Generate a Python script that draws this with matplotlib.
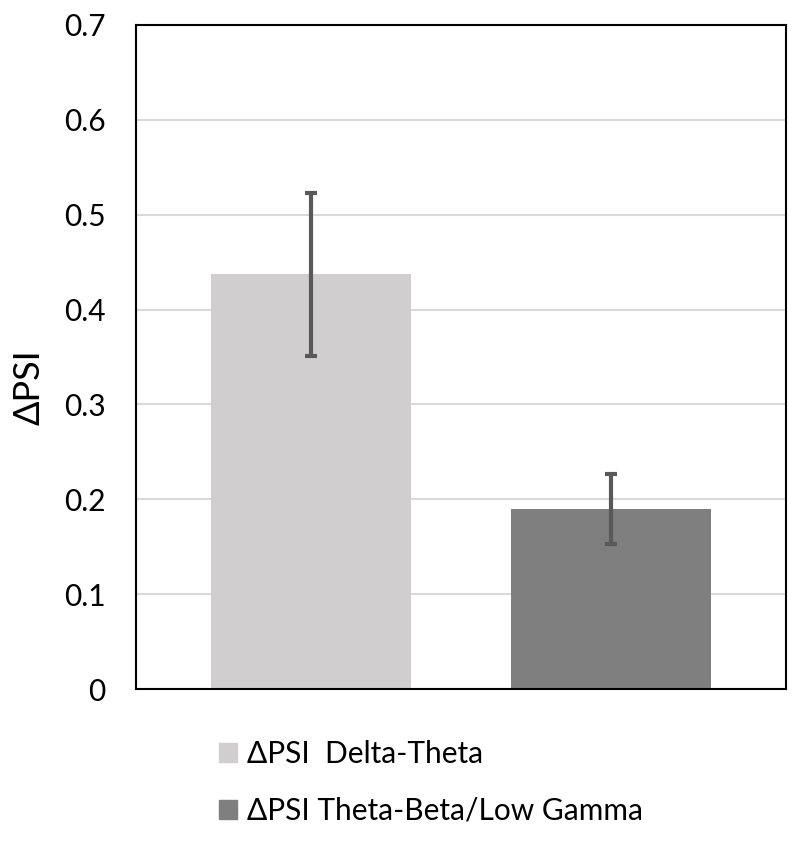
import numpy as np
import matplotlib
matplotlib.use('Agg')
import matplotlib.pyplot as plt
from matplotlib.patches import Patch

# Data
labels = ['\u0394PSI  Delta-Theta', '\u0394PSI Theta-Beta/Low Gamma']
means = [0.437, 0.190]
err_low = [0.437 - 0.351, 0.190 - 0.153]
err_high = [0.523 - 0.437, 0.227 - 0.190]
bar_colors = ['#d0cece', '#7f7f7f']
yticks = [0, 0.1, 0.2, 0.3, 0.4, 0.5, 0.6, 0.7]
ytick_labels = ['0', '0.1', '0.2', '0.3', '0.4', '0.5', '0.6', '0.7']

plt.rcParams['font.family'] = ['Lato', 'DejaVu Sans']

fig = plt.figure(figsize=(8, 8.47), dpi=100)
ax = fig.add_axes([0.17, 0.1865, 0.8125, 0.784])

x = np.arange(len(means))
ax.bar(x, means, width=0.667, color=bar_colors, zorder=2)
ax.errorbar(x, means, yerr=[err_low, err_high], fmt='none', ecolor='#595959',
            elinewidth=3, capsize=4, capthick=3, zorder=3)

ax.set_xlim(-0.583, 1.583)
ax.set_ylim(0, 0.7)
ax.set_yticks(yticks)
ax.set_yticklabels(ytick_labels, fontsize=21.5)
ax.set_xticks([])
ax.tick_params(axis='y', length=0, pad=22)
ax.yaxis.grid(True, color='#d9d9d9', linewidth=1.5, zorder=0)
ax.set_axisbelow(True)
for s in ax.spines.values():
    s.set_linewidth(1.5)
    s.set_color('black')

ax.set_ylabel('\u0394PSI', fontsize=26)
ax.yaxis.set_label_coords(-0.139, 0.455)

handles = [Patch(color=c) for c in bar_colors]
fig.legend(handles, labels, loc='upper left', bbox_to_anchor=(0.240, 0.1575),
           frameon=False, fontsize=21.5, handlelength=0.6, handleheight=0.6,
           handletextpad=0.35, labelspacing=0.95)

fig.savefig('out.png', dpi=100)
